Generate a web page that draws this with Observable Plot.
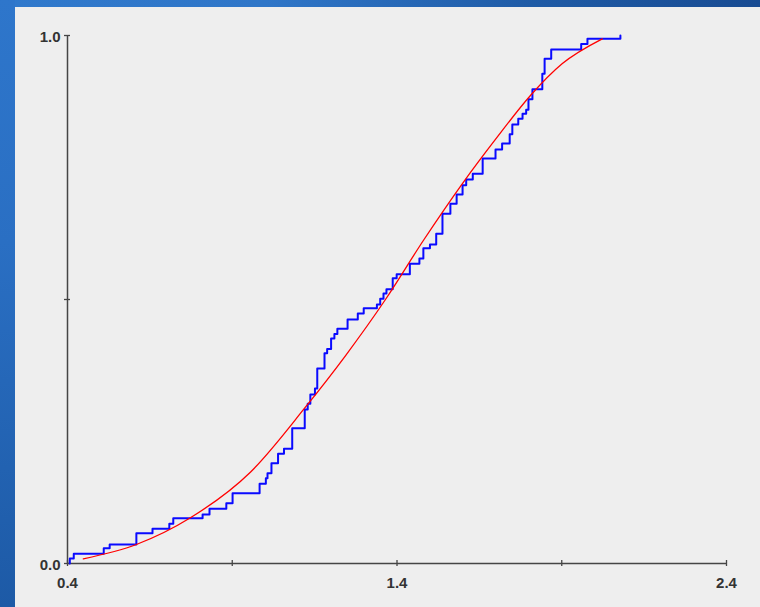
<!DOCTYPE html>
<html>
<head>
<meta charset="utf-8">
<script src="https://cdn.jsdelivr.net/npm/d3@7"></script>
<script src="https://cdn.jsdelivr.net/npm/@observablehq/plot@0.6"></script>
<style>
  html, body { margin: 0; padding: 0; width: 760px; height: 607px; overflow: hidden; }
  body { position: relative; background: linear-gradient(to right, #3079cc 0%, #2f76c8 35%, #1f5ba6 70%, #184b92 100%); }
  #leftbar { position: absolute; left: 0; top: 0; width: 15px; height: 607px; background: linear-gradient(to bottom, #2e76cb 0%, #2a6fc3 40%, #1d5aa6 100%); }
  #panel { position: absolute; left: 15px; top: 7px; right: 0; bottom: 0; background: #eeeeee; }
  #chart { position: absolute; left: 0; top: 0; }
</style>
</head>
<body>
<div id="leftbar"></div>
<div id="panel"></div>
<div id="chart"></div>
<script>
// Empirical CDF: sample values at which the step function jumps, and the level after each jump
const ecdfX = [0.407, 0.419, 0.510, 0.528, 0.609, 0.658, 0.709, 0.721, 0.810, 0.831,
               0.882, 0.901, 0.983, 1.002, 1.007, 1.019, 1.039, 1.057, 1.082, 1.120,
               1.129, 1.137, 1.151, 1.158, 1.180, 1.188, 1.200, 1.210, 1.219, 1.250,
               1.281, 1.299, 1.339, 1.349, 1.359, 1.368, 1.387, 1.399, 1.439, 1.468,
               1.480, 1.500, 1.519, 1.538, 1.562, 1.581, 1.599, 1.610, 1.630, 1.660,
               1.699, 1.719, 1.742, 1.750, 1.768, 1.781, 1.792, 1.799, 1.811, 1.841,
               1.848, 1.868, 1.959, 1.978, 2.078];
const ecdfF = [0.0095, 0.0184, 0.0290, 0.0360, 0.0574, 0.0657, 0.0752, 0.0858, 0.0928, 0.1036,
               0.1142, 0.1331, 0.1509, 0.1616, 0.1710, 0.1900, 0.2078, 0.2172, 0.2563, 0.2917,
               0.3025, 0.3201, 0.3314, 0.3693, 0.3983, 0.4063, 0.4261, 0.4347, 0.4445, 0.4621,
               0.4735, 0.4835, 0.4905, 0.5013, 0.5114, 0.5195, 0.5402, 0.5479, 0.5676, 0.5777,
               0.5973, 0.6042, 0.6244, 0.6623, 0.6813, 0.6989, 0.7165, 0.7273, 0.7381, 0.7670,
               0.7841, 0.7955, 0.8131, 0.8314, 0.8422, 0.8517, 0.8595, 0.8794, 0.8983, 0.9275,
               0.9559, 0.9735, 0.9839, 0.9937, 1.0000];

// Fitted (theoretical) CDF, read at points along the red curve
const fitX = [0.448, 0.609, 0.773, 0.955, 1.122, 1.244, 1.365, 1.481, 1.598, 1.704,
              1.805, 1.901, 2.023];
const fitF = [0.0089, 0.0360, 0.0866, 0.1729, 0.2960, 0.3939, 0.5000, 0.6127, 0.7191, 0.8074,
              0.8864, 0.9464, 0.9937];

// Axis ticks and labels
const xTicks = [0.4, 0.9, 1.4, 1.9, 2.4];
const xLabels = [0.4, 1.4, 2.4];
const yTicks = [0, 0.5, 1];
const yLabels = [0, 1];

const ecdfData = [{x: ecdfX[0], f: 0}, ...ecdfX.map((x, i) => ({x, f: ecdfF[i]}))];
const fitData = fitX.map((x, i) => ({x, f: fitF[i]}));

const axisColor = "#454545";
const textColor = "#333333";

const chart = Plot.plot({
  width: 760,
  height: 607,
  marginLeft: 67,
  marginRight: 34,
  marginTop: 35,
  marginBottom: 44,
  style: {background: "transparent", fontFamily: "'Liberation Sans', Arial, sans-serif", overflow: "visible"},
  x: {domain: [0.4, 2.4], label: null},
  y: {domain: [0, 1], label: null},
  marks: [
    Plot.ruleX([0.4], {y1: 0, y2: 1, stroke: axisColor, strokeWidth: 1.5}),
    Plot.ruleY([0], {x1: 0.4, x2: 2.4, stroke: axisColor, strokeWidth: 1.5}),
    Plot.axisX({ticks: xTicks, tickSize: 6, dy: -3, fill: "none", stroke: axisColor, strokeWidth: 1.3, label: null}),
    Plot.axisY({ticks: yTicks, tickSize: 6, dx: 3, fill: "none", stroke: axisColor, strokeWidth: 1.3, label: null}),
    Plot.axisX({ticks: xLabels, tickSize: 0, tickPadding: 14, tickFormat: d => d.toFixed(1),
                fontSize: 15, fontWeight: "bold", fill: textColor, label: null}),
    Plot.axisY({ticks: yLabels, tickSize: 0, tickPadding: 7, dy: 2, tickFormat: d => d.toFixed(1),
                fontSize: 15, fontWeight: "bold", fill: textColor, label: null}),
    Plot.line(ecdfData, {x: "x", y: "f", curve: "step-after", stroke: "#0a0aff", strokeWidth: 2}),
    Plot.line(fitData, {x: "x", y: "f", curve: "monotone-x", stroke: "#ff0000", strokeWidth: 1.3})
  ]
});
document.getElementById("chart").appendChild(chart);
</script>
</body>
</html>
